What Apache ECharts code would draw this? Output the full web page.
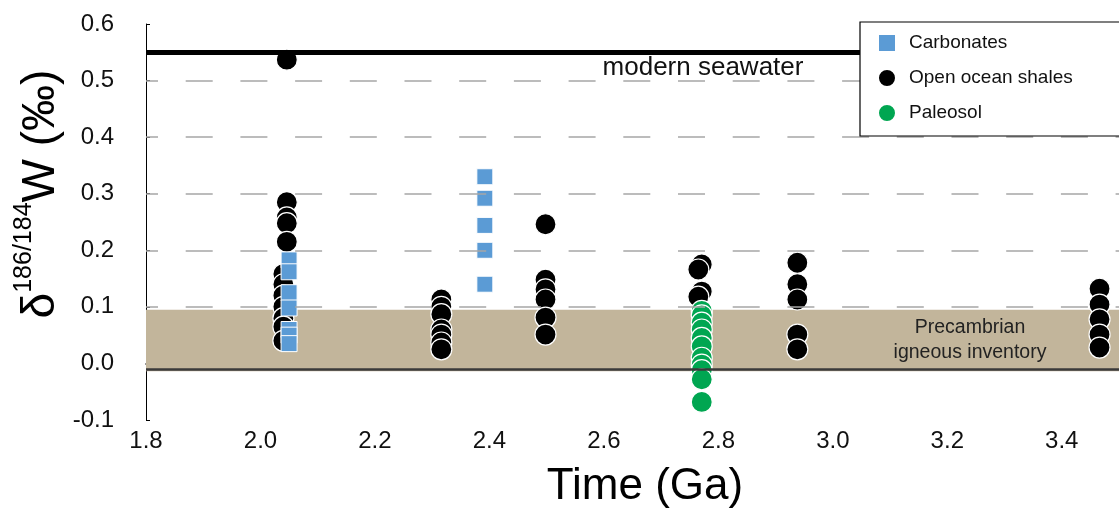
<!DOCTYPE html>
<html>
<head>
<meta charset="utf-8">
<script src="https://cdn.jsdelivr.net/npm/echarts@6/dist/echarts.min.js"></script>
<style>html,body{margin:0;padding:0;background:#fff}#c{width:1119px;height:509px}</style>
</head>
<body>
<div id="c"></div>
<script>
// ---- data ----
const shaleTime = [2.046,2.046,2.046,2.046,2.046,2.04,2.04,2.04,2.04,2.04,2.04,2.04,
  2.316,2.316,2.316,2.316,2.316,2.316,2.316,
  2.498,2.498,2.498,2.498,2.498,2.498,
  2.771,2.765,2.771,2.765,
  2.938,2.938,2.938,2.938,2.938,
  3.466,3.466,3.466,3.466,3.466];
const shaleW = [0.537,0.285,0.258,0.248,0.215,0.158,0.14,0.12,0.10,0.08,0.065,0.04,
  0.113,0.10,0.087,0.06,0.051,0.037,0.025,
  0.246,0.148,0.131,0.113,0.081,0.051,
  0.175,0.166,0.127,0.118,
  0.178,0.14,0.113,0.051,0.025,
  0.132,0.104,0.078,0.051,0.028];
const carbTime = [2.05,2.05,2.05,2.05,2.05,2.05,2.05, 2.392,2.392,2.392,2.392,2.392];
const carbW = [0.183,0.162,0.125,0.098,0.06,0.05,0.035, 0.33,0.292,0.244,0.2,0.14];
const paleoTime = [2.771,2.771,2.771,2.771,2.771,2.771,2.771,2.771,2.771,2.771,2.771];
const paleoW = [0.093,0.085,0.072,0.06,0.045,0.03,0.01,-0.002,-0.012,-0.028,-0.068];
const seawaterW = 0.554;
const igneousRange = [-0.014, 0.095];
const zeroLineW = -0.006;
const gridLevels = [0.1, 0.2, 0.3, 0.4, 0.5];
const seriesNames = ['Carbonates', 'Open ocean shales', 'Paleosol'];

const zip = (xs, ys) => xs.map((x, i) => [x, ys[i]]);
const font = 'Liberation Sans, Arial, sans-serif';

const chart = echarts.init(document.getElementById('c'), null, {renderer: 'canvas'});
chart.setOption({
  animation: false,
  backgroundColor: '#fff',
  grid: {left: 146, top: 24, bottom: 89, right: -9},
  xAxis: {
    type: 'value', min: 1.8, max: 3.5, interval: 0.2,
    axisLine: {show: true, lineStyle: {color: '#000', width: 1.5}},
    axisTick: {show: true, inside: true, length: 20, lineStyle: {color: '#444', width: 1}},
    axisLabel: {color: '#111', fontSize: 24, fontFamily: font, margin: 9, showMaxLabel: false,
      formatter: v => v.toFixed(1)},
    splitLine: {show: false}
  },
  yAxis: {
    type: 'value', min: -0.1, max: 0.6, interval: 0.1,
    axisLine: {show: true, lineStyle: {color: '#000', width: 1}},
    axisTick: {show: true, inside: true, length: 4, lineStyle: {color: '#000'}},
    axisLabel: {color: '#111', fontSize: 24, fontFamily: font, margin: 32,
      formatter: v => v.toFixed(1)},
    splitLine: {show: false}
  },
  legend: {
    data: seriesNames,
    orient: 'vertical',
    left: 860, top: 22, z: 20,
    padding: [11, 80, 13, 17],
    itemWidth: 18, itemHeight: 18, itemGap: 15,
    backgroundColor: '#fff', borderColor: '#000', borderWidth: 1.2,
    textStyle: {fontSize: 19, fontFamily: font, color: '#111', padding: [0, 0, 0, 8]}
  },
  series: [
    {
      name: 'bg', type: 'scatter', data: [], z: 1, silent: true,
      markArea: {
        silent: true,
        itemStyle: {color: '#c2b59b'},
        data: [[{yAxis: igneousRange[0]}, {yAxis: igneousRange[1]}]]
      },
      markLine: {
        silent: true, symbol: 'none', animation: false,
        label: {show: false},
        data: gridLevels.map(v => ({yAxis: v, lineStyle: {color: '#a6a6a6', width: 1.5, type: [27, 27.7], dashOffset: 15}}))
          .concat([
            {yAxis: zeroLineW, lineStyle: {color: '#3a3a3a', width: 2.5, type: 'solid'}},
            {yAxis: seawaterW, lineStyle: {color: '#000', width: 5, type: 'solid'}}
          ])
      }
    },
    {
      name: 'Open ocean shales', type: 'scatter', z: 3,
      symbol: 'circle', symbolSize: 21,
      itemStyle: {color: '#000', borderColor: '#fff', borderWidth: 1.2, opacity: 1},
      data: zip(shaleTime, shaleW)
    },
    {
      name: 'Carbonates', type: 'scatter', z: 4,
      symbol: 'rect', symbolSize: 16,
      itemStyle: {color: '#5b9bd5', borderColor: '#fff', borderWidth: 1, opacity: 1},
      data: zip(carbTime, carbW)
    },
    {
      name: 'Paleosol', type: 'scatter', z: 4,
      symbol: 'circle', symbolSize: 21,
      itemStyle: {color: '#00a651', borderColor: '#fff', borderWidth: 1.2, opacity: 1},
      data: zip(paleoTime, paleoW)
    }
  ],
  graphic: [
    {type: 'text', x: 703, y: 68, z: 10,
      style: {text: 'modern seawater', fontSize: 26, fontFamily: font, fill: '#111', align: 'center', verticalAlign: 'middle'}},
    {type: 'text', x: 970, y: 340, z: 10,
      style: {text: 'Precambrian\nigneous inventory', fontSize: 19.5, lineHeight: 25, fontFamily: font, fill: '#222', align: 'center', verticalAlign: 'middle'}},
    {type: 'text', x: 645, y: 487, z: 10,
      style: {text: 'Time (Ga)', fontSize: 44, fontFamily: font, fill: '#000', align: 'center', verticalAlign: 'middle'}},
    {type: 'text', x: 38, y: 194, rotation: Math.PI / 2, z: 10,
      style: {
        text: '{d|δ}{s|186/184}{d|W (‰)}',
        align: 'center', verticalAlign: 'middle', fill: '#000',
        rich: {
          d: {fontSize: 46, fontFamily: font, fill: '#000', verticalAlign: 'bottom', lineHeight: 52},
          s: {fontSize: 25, fontFamily: font, fill: '#000', verticalAlign: 'top', lineHeight: 52, padding: [0, 0, 18, 0]}
        }
      }}
  ]
});
</script>
</body>
</html>
